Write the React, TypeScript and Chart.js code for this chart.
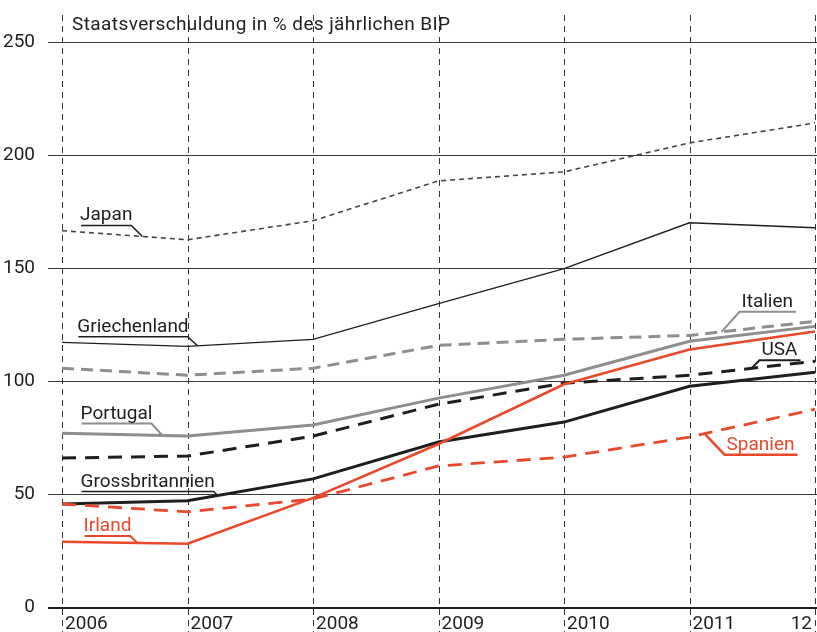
import React, { useEffect, useRef } from "react";
import { Chart, registerables } from "chart.js";

Chart.register(...registerables);

const FONT = "Roboto, 'DejaVu Sans', sans-serif";
const TITLE = "Staatsverschuldung in % des jährlichen BIP";

const YEARS = [2006, 2007, 2008, 2009, 2010, 2011, 2012];
const X_TICK_LABELS = ["2006", "2007", "2008", "2009", "2010", "2011", "12"];
const Y_MIN = 0;
const Y_MAX = 250;
const Y_STEP = 50;

const JAPAN = [166.6, 162.6, 171.0, 188.6, 192.6, 205.4, 214.2];
const GRIECHENLAND = [117.2, 115.5, 118.6, 134.4, 149.8, 170.1, 167.9];
const ITALIEN = [105.8, 102.7, 105.8, 115.9, 118.6, 120.3, 126.5];
const PORTUGAL = [77.1, 75.8, 80.7, 92.6, 102.7, 117.7, 124.3];
const USA = [66.1, 67.0, 75.8, 89.9, 99.2, 102.7, 108.9];
const GROSSBRITANNIEN = [45.8, 47.2, 56.9, 73.2, 82.0, 97.8, 104.0];
const SPANIEN = [45.8, 42.3, 48.0, 62.6, 66.5, 75.4, 87.7];
const IRLAND = [29.1, 28.2, 48.5, 72.3, 98.7, 114.1, 122.0];

const ORANGE = "#E9482B";
const GRAY = "#8E8E8E";
const BLACK = "#1E1E1E";
const DARK = "#444444";

type SeriesDef = {
  name: string;
  values: number[];
  color: string;
  width: number;
  dash: number[];
};

// drawn order: first in list = on top
const SERIES: SeriesDef[] = [
  { name: "Irland", values: IRLAND, color: ORANGE, width: 2.6, dash: [] },
  { name: "Spanien", values: SPANIEN, color: ORANGE, width: 2.8, dash: [14, 9] },
  { name: "Grossbritannien", values: GROSSBRITANNIEN, color: BLACK, width: 3, dash: [] },
  { name: "USA", values: USA, color: BLACK, width: 3, dash: [14, 9] },
  { name: "Portugal", values: PORTUGAL, color: GRAY, width: 3, dash: [] },
  { name: "Italien", values: ITALIEN, color: GRAY, width: 3, dash: [12, 7] },
  { name: "Griechenland", values: GRIECHENLAND, color: BLACK, width: 1.3, dash: [] },
  { name: "Japan", values: JAPAN, color: DARK, width: 1.6, dash: [5, 4] },
];

type LabelDef = {
  series: string;
  year: number;
  dx: number;
  dy: number;
  side: "left" | "right";
  textColor: string;
  lineColor: string;
  lineWidth: number;
};

const LABELS: LabelDef[] = [
  { series: "Japan", year: 2006.64, dx: -11, dy: -11, side: "left", textColor: BLACK, lineColor: BLACK, lineWidth: 1.6 },
  { series: "Griechenland", year: 2007.08, dx: -10, dy: -9, side: "left", textColor: BLACK, lineColor: BLACK, lineWidth: 1.6 },
  { series: "Portugal", year: 2006.8, dx: -11, dy: -12, side: "left", textColor: BLACK, lineColor: GRAY, lineWidth: 2 },
  { series: "Grossbritannien", year: 2007.24, dx: -4, dy: -4, side: "left", textColor: BLACK, lineColor: BLACK, lineWidth: 1.6 },
  { series: "Irland", year: 2006.6, dx: -7, dy: -7, side: "left", textColor: ORANGE, lineColor: ORANGE, lineWidth: 2 },
  { series: "Italien", year: 2011.255, dx: 18, dy: -20, side: "right", textColor: BLACK, lineColor: GRAY, lineWidth: 2 },
  { series: "USA", year: 2011.494, dx: 8, dy: -8, side: "right", textColor: BLACK, lineColor: BLACK, lineWidth: 2 },
  { series: "Spanien", year: 2011.12, dx: 20, dy: 21, side: "right", textColor: ORANGE, lineColor: ORANGE, lineWidth: 2.4 },
];

function interp(values: number[], year: number): number {
  for (let i = 0; i < YEARS.length - 1; i++) {
    if (year >= YEARS[i] && year <= YEARS[i + 1]) {
      const t = (year - YEARS[i]) / (YEARS[i + 1] - YEARS[i]);
      return values[i] + t * (values[i + 1] - values[i]);
    }
  }
  return values[values.length - 1];
}

const overlayPlugin = {
  id: "overlay",
  beforeDatasetsDraw(chart: any) {
    const { ctx, chartArea, scales } = chart;
    const xs = scales.x;
    ctx.save();
    // vertical dashed year lines
    ctx.strokeStyle = "#333";
    ctx.lineWidth = 1;
    ctx.setLineDash([6, 5]);
    YEARS.forEach((yr) => {
      const px = Math.round(xs.getPixelForValue(yr)) + 0.5;
      ctx.beginPath();
      ctx.moveTo(px, chartArea.top - 27);
      ctx.lineTo(px, chart.height);
      ctx.stroke();
    });
    ctx.setLineDash([]);
    // x labels
    ctx.fillStyle = BLACK;
    ctx.font = `19px ${FONT}`;
    ctx.textBaseline = "alphabetic";
    YEARS.forEach((yr, i) => {
      const px = xs.getPixelForValue(yr);
      const last = i === YEARS.length - 1;
      ctx.textAlign = last ? "right" : "left";
      ctx.fillText(X_TICK_LABELS[i], last ? px - 3 : px + 3, chartArea.bottom + 21);
    });
    // title
    ctx.font = `19px ${FONT}`;
    ctx.textAlign = "left";
    try {
      (ctx as any).letterSpacing = "0.4px";
    } catch (e) {}
    ctx.fillText(TITLE, xs.getPixelForValue(YEARS[0]) + 10, chartArea.top - 12);
    try {
      (ctx as any).letterSpacing = "0px";
    } catch (e) {}
    ctx.restore();
  },
  afterDatasetsDraw(chart: any) {
    const { ctx, scales } = chart;
    const xs = scales.x;
    const ys = scales.y;
    ctx.save();
    ctx.font = `19px ${FONT}`;
    ctx.textBaseline = "alphabetic";
    LABELS.forEach((lb) => {
      const s = SERIES.find((d) => d.name === lb.series)!;
      const ax = xs.getPixelForValue(lb.year);
      const ay = ys.getPixelForValue(interp(s.values, lb.year));
      const ex = ax + lb.dx;
      const ey = ay + lb.dy;
      const tw = ctx.measureText(lb.series).width;
      ctx.strokeStyle = lb.lineColor;
      ctx.lineWidth = lb.lineWidth;
      ctx.lineJoin = "miter";
      ctx.beginPath();
      if (lb.side === "left") {
        const start = ex - tw + 2;
        ctx.moveTo(start, ey);
        ctx.lineTo(ex, ey);
        ctx.lineTo(ax, ay);
        ctx.stroke();
        ctx.fillStyle = lb.textColor;
        ctx.textAlign = "left";
        ctx.fillText(lb.series, start - 1, ey - 5);
      } else {
        const end = ex + tw + 5;
        ctx.moveTo(ax, ay);
        ctx.lineTo(ex, ey);
        ctx.lineTo(end, ey);
        ctx.stroke();
        ctx.fillStyle = lb.textColor;
        ctx.textAlign = "left";
        ctx.fillText(lb.series, ex + 2, ey - 5);
      }
    });
    ctx.restore();
  },
};

export default function App() {
  const ref = useRef<HTMLCanvasElement | null>(null);
  useEffect(() => {
    document.body.style.margin = "0";
    const canvas = ref.current;
    if (!canvas) return;
    const chart = new Chart(canvas, {
      type: "line",
      data: {
        datasets: SERIES.map((s) => ({
          label: s.name,
          data: s.values.map((v, i) => ({ x: YEARS[i], y: v })),
          borderColor: s.color,
          borderWidth: s.width,
          borderDash: s.dash,
          pointRadius: 0,
          tension: 0,
          fill: false,
        })),
      },
      options: {
        animation: false,
        responsive: false,
        devicePixelRatio: 1,
        layout: { padding: { left: 0, right: 0, top: 42, bottom: 23 } },
        plugins: { legend: { display: false }, tooltip: { enabled: false }, title: { display: false } },
        scales: {
          x: {
            type: "linear",
            display: false,
            min: 2005.888,
            max: 2012.016,
          },
          y: {
            min: Y_MIN,
            max: Y_MAX,
            afterFit(s: any) {
              s.width = 48;
            },
            ticks: {
              stepSize: Y_STEP,
              padding: 13,
              color: BLACK,
              font: { family: FONT, size: 19 },
            },
            grid: {
              drawTicks: false,
              color: (c: any) => (c.tick && c.tick.value === 0 ? BLACK : "#3a3a3a"),
              lineWidth: (c: any) => (c.tick && c.tick.value === 0 ? 2 : 1),
            },
            border: { display: false },
          },
        },
      },
      plugins: [overlayPlugin],
    });
    return () => chart.destroy();
  }, []);
  return <canvas ref={ref} width={817} height={632} style={{ display: "block" }} />;
}
